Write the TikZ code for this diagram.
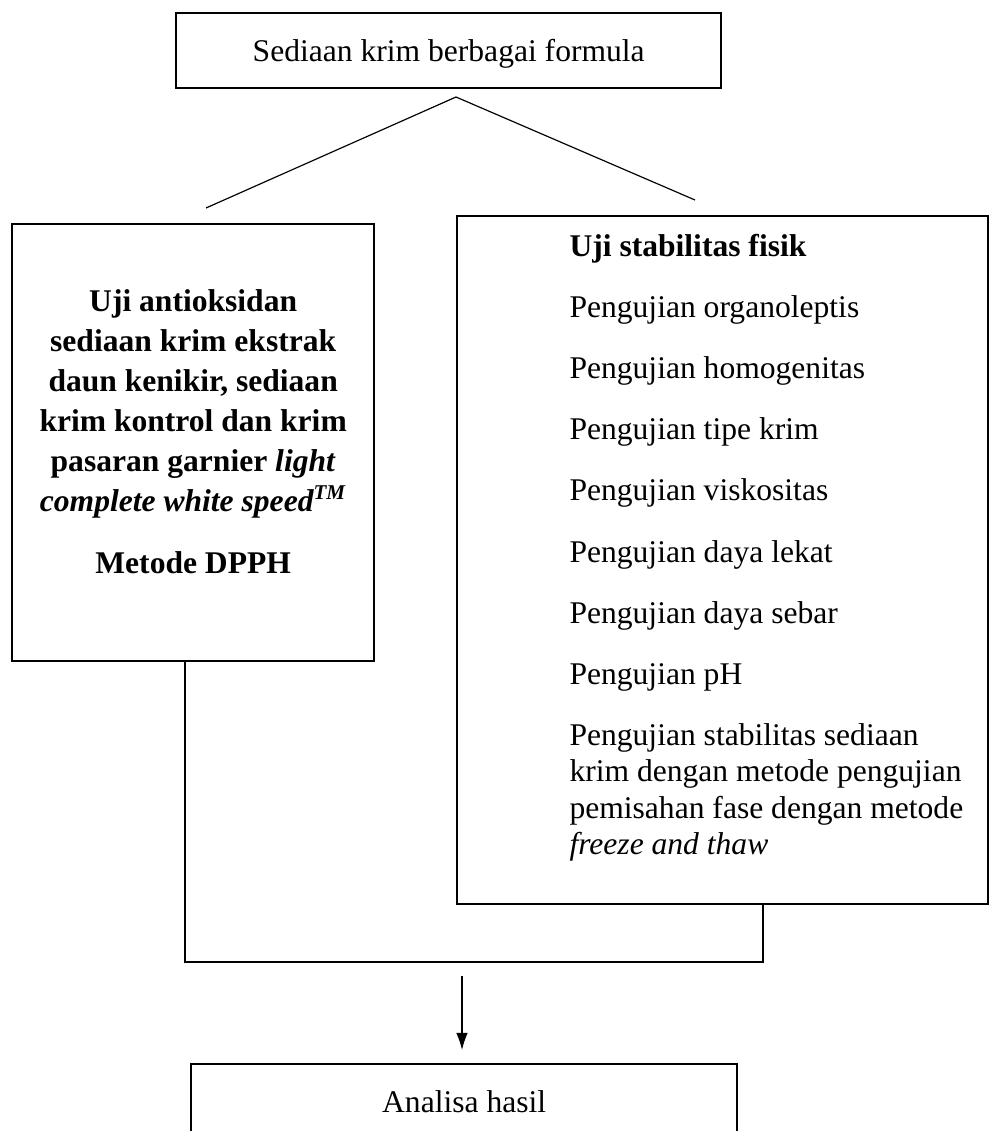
\documentclass[tikz,border=0pt]{standalone}
\usepackage{fontspec}
\setmainfont{Liberation Serif}
\usetikzlibrary{arrows.meta}
\newcommand{\pxu}{0.38pt}

\begin{document}
\begin{tikzpicture}[x=\pxu,y=-\pxu,
    box/.style={draw,line width=0.9pt,inner sep=0pt,font=\fontsize{12}{13.9}\selectfont},
    link/.style={line width=0.45pt}]
    \clip (0,0) rectangle (989,1131);
    % boxes
    \node[box,anchor=north west,minimum width=545*\pxu,minimum height=75*\pxu,text depth=0pt] (krim) at (175,12) {Sediaan krim berbagai formula};
    \node[box,anchor=north west,minimum width=362*\pxu,minimum height=437*\pxu] (antiox) at (11,223) {};
    \node[box,anchor=north west,minimum width=531*\pxu,minimum height=688*\pxu] (fisik) at (456,215) {};
    \node[box,anchor=north west,minimum width=546*\pxu,minimum height=76*\pxu] (hasil) at (190,1063) {Analisa hasil};
    % box texts
    \node[anchor=north,align=center,inner sep=0pt,font=\bfseries\fontsize{12}{15.2}\selectfont] (antioxtext)
        at ([yshift=-66*\pxu]antiox.north) {Uji antioksidan\\ sediaan krim ekstrak\\ daun kenikir, sediaan\\
        krim kontrol dan krim\\ pasaran garnier \textit{light}\\ \textit{complete white speed\textsuperscript{TM}}\\[8.4pt]
        Metode DPPH};
    \node[anchor=north west,align=left,inner sep=0pt,font=\fontsize{12}{13.9}\selectfont] (fisiktext)
        at ([xshift=113*\pxu,yshift=-19*\pxu]fisik.north west) {\textbf{Uji stabilitas fisik}\\[9.3pt]
        Pengujian organoleptis\\[9.3pt]
        Pengujian homogenitas\\[9.3pt]
        Pengujian tipe krim\\[9.3pt]
        Pengujian viskositas\\[9.3pt]
        Pengujian daya lekat\\[9.3pt]
        Pengujian daya sebar\\[9.3pt]
        Pengujian pH\\[9.3pt]
        Pengujian stabilitas sediaan\\
        krim dengan metode pengujian\\
        pemisahan fase dengan metode\\
        \textit{freeze and thaw}};
    % connectors
    \coordinate (split) at (456,97);
    \coordinate (splitl) at (206,208);
    \coordinate (splitr) at (695,200);
    \draw[link] (splitl) -- (split) -- (splitr);
    \coordinate (joinl) at (185,962);
    \coordinate (joinr) at (763,962);
    \draw[link] (antiox.south -| joinl) -- (joinl) -- (joinr) -- (fisik.south -| joinr);
    \coordinate (arrtop) at (462,976);
    \draw[link,-{Latex[length=6.5pt,width=4.4pt]},shorten >=13*\pxu] (arrtop) -- (hasil.north -| arrtop);
\end{tikzpicture}
\end{document}
